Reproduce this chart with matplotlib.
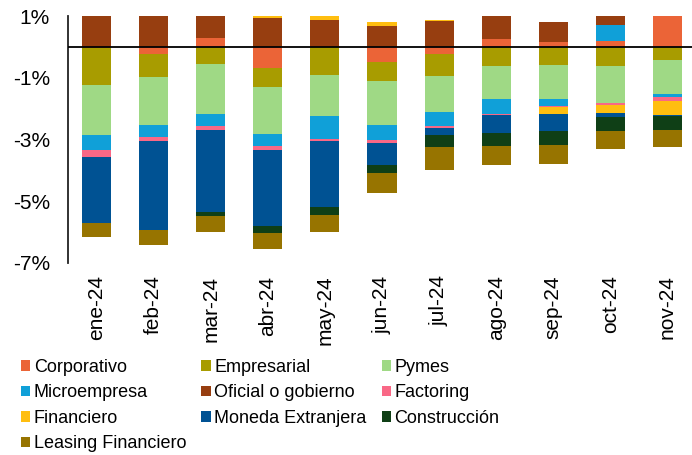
import numpy as np
import matplotlib.pyplot as plt
from matplotlib.patches import Patch

plt.rcParams['font.family'] = ['Liberation Sans', 'DejaVu Sans']

months = ['ene-24', 'feb-24', 'mar-24', 'abr-24', 'may-24', 'jun-24',
          'jul-24', 'ago-24', 'sep-24', 'oct-24', 'nov-24']

# contribution of each segment (percentage points)
corporativo = [-0.05, -0.24, 0.28, -0.67, 0.00, -0.48, -0.22, 0.25, 0.17, 0.20, 1.05]
empresarial = [-1.18, -0.74, -0.57, -0.63, -0.91, -0.62, -0.71, -0.63, -0.59, -0.63, -0.44]
pymes = [-1.62, -1.55, -1.61, -1.52, -1.32, -1.42, -1.18, -1.06, -1.10, -1.18, -1.10]
microempresa = [-0.48, -0.40, -0.39, -0.39, -0.74, -0.49, -0.46, -0.49, -0.24, 0.52, -0.08]
oficial = [1.05, 1.05, 0.78, 0.92, 0.87, 0.69, 0.84, 0.80, 0.63, 0.35, 0.00]
factoring = [-0.23, -0.11, -0.11, -0.13, -0.09, -0.09, -0.05, -0.03, -0.03, -0.06, -0.14]
financiero = [0.00, 0.00, 0.00, 0.10, 0.15, 0.11, 0.04, 0.00, -0.23, -0.26, -0.44]
moneda_ext = [-2.16, -2.88, -2.67, -2.46, -2.13, -0.72, -0.24, -0.58, -0.54, -0.14, -0.03]
construccion = [0.00, 0.00, -0.13, -0.22, -0.27, -0.27, -0.39, -0.43, -0.44, -0.47, -0.46]
leasing = [-0.44, -0.50, -0.52, -0.54, -0.55, -0.63, -0.75, -0.62, -0.61, -0.56, -0.55]

series = [
    ('Corporativo', corporativo, '#EB6437'),
    ('Empresarial', empresarial, '#A89C00'),
    ('Pymes', pymes, '#9FD985'),
    ('Microempresa', microempresa, '#10A0D8'),
    ('Oficial o gobierno', oficial, '#973E10'),
    ('Factoring', factoring, '#F96886'),
    ('Financiero', financiero, '#FFBE10'),
    ('Moneda Extranjera', moneda_ext, '#005293'),
    ('Construcción', construccion, '#0F3F16'),
    ('Leasing Financiero', leasing, '#977400'),
]

fig = plt.figure(figsize=(6.92, 4.55), dpi=100)
ax = fig.add_axes([68 / 692, 192 / 455, 1 - 68 / 692, 247 / 455])

x = np.arange(len(months))
pos_bottom = np.zeros(len(months))
neg_bottom = np.zeros(len(months))
handles = []
for name, vals, color in series:
    vals = np.array(vals)
    bottom = np.where(vals >= 0, pos_bottom, neg_bottom)
    ax.bar(x, vals, bottom=bottom, width=0.51, color=color, linewidth=0)
    pos_bottom += np.clip(vals, 0, None)
    neg_bottom += np.clip(vals, None, 0)
    handles.append(Patch(facecolor=color, label=name))

ax.axhline(0, color='black', linewidth=1.3, zorder=5)

ax.set_xlim(-0.5, 10.43)
ax.set_ylim(-7, 1)
ax.set_yticks([1, -1, -3, -5, -7])
ax.set_yticklabels(['1%', '-1%', '-3%', '-5%', '-7%'])
ax.set_xticks(x)
ax.set_xticklabels(months, rotation=90)
ax.tick_params(axis='y', length=0, pad=13, labelsize=15)
ax.tick_params(axis='x', length=0, pad=9, labelsize=15)

for side in ['top', 'right', 'bottom']:
    ax.spines[side].set_visible(False)
ax.spines['left'].set_color('#222222')
ax.spines['left'].set_linewidth(1.3)

# legend laid out row by row (matplotlib fills columns first)
order = [0, 3, 6, 9, 1, 4, 7, 2, 5, 8]
fig.legend([handles[i] for i in order], [handles[i].get_label() for i in order],
           ncol=3, loc='upper left', bbox_to_anchor=(21 / 692, 1 - 359 / 455),
           frameon=False, fontsize=13, borderpad=0, borderaxespad=0,
           handlelength=0.5, handleheight=0.5, handletextpad=0.2,
           labelspacing=0.47, columnspacing=0.85)

plt.savefig('out.png', dpi=100)
